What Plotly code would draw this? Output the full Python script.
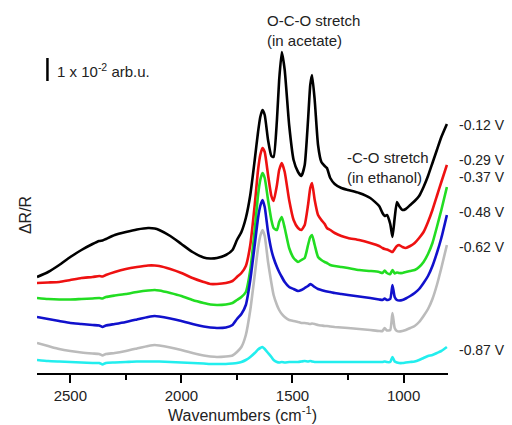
import plotly.graph_objects as go

wavenumbers = [2650, 2600, 2550, 2500, 2450, 2400, 2370, 2355, 2340, 2300,
               2250, 2200, 2150, 2120, 2100, 2050, 2000, 1950, 1900, 1870,
               1840, 1800, 1770, 1750, 1730, 1710, 1690, 1670, 1655, 1645,
               1635, 1625, 1610, 1595, 1585, 1570, 1560, 1548, 1535, 1515,
               1495, 1475, 1460, 1445, 1430, 1420, 1412, 1400, 1385, 1370,
               1355, 1345, 1330, 1310, 1280, 1250, 1200, 1150, 1110, 1095,
               1085, 1075, 1060, 1050, 1040, 1030, 1020, 1005, 990, 970,
               950, 930, 910, 890, 870, 850, 830, 805]

s_012 = [96, 101, 108, 116, 123, 129, 132, 132.5, 134, 138,
         141, 143.5, 145, 144.5, 143, 137, 129, 121, 115.5, 114.5,
         115, 118, 123, 133, 141, 155, 178, 213, 241, 256,
         263, 258, 233, 217, 216, 253, 293, 321, 303, 248,
         213, 201, 197, 208, 253, 288, 298, 273, 228, 211,
         207, 205, 195, 189, 185, 183, 180, 175, 167, 160,
         157, 158, 149, 136, 155, 171, 167, 163, 164, 168,
         172, 177, 186, 197, 210, 223, 236, 249]

s_029 = [90, 90.5, 91, 93, 95, 96, 97, 96.5, 98, 101,
         104, 106, 107.5, 107.5, 107, 104, 100, 95, 91, 89,
         89, 90, 92, 96, 100, 107, 128, 168, 203, 218,
         225, 221, 198, 177, 172, 188, 203, 210, 201, 173,
         153, 145, 143, 148, 168, 185, 190, 173, 158, 153,
         149, 145, 143, 140, 137, 135, 133, 130, 127, 125,
         124, 123.5, 122, 121, 124, 127, 128, 126, 125, 127,
         130, 135, 141, 151, 163, 177, 191, 208]

s_037 = [75, 74, 73.5, 73.5, 74, 74.5, 75, 74.5, 76, 77.5,
         79, 81, 82.5, 83, 82.5, 80, 77, 73, 70, 68.5,
         68, 68.5, 70, 73, 76, 81, 103, 143, 178, 193,
         200, 195, 173, 153, 145, 143, 151, 156, 145, 125,
         115, 111, 113, 115, 128, 136, 138, 128, 116, 113,
         111, 110, 108, 107, 106, 105, 103, 102, 101, 100,
         102.5, 100, 99, 103, 99.5, 100.5, 100, 100, 101, 102,
         103, 106, 111, 119, 130, 146, 163, 186]

s_048 = [56, 54, 52, 50, 49, 48, 47.5, 46, 47.5, 49,
         51, 53.5, 56, 57, 56.5, 54.5, 52, 49, 46.5, 45.5,
         45, 45.5, 48, 54, 59, 68, 93, 128, 155, 167,
         173, 166, 141, 123, 115, 106, 101, 96, 91, 86,
         84, 82, 83, 85, 87, 89, 88, 86, 84, 83,
         82, 81.5, 81, 80, 79, 78, 76.5, 75, 73.5, 73,
         74.5, 73, 74, 88, 76, 73, 72.5, 73, 74.5, 77,
         80, 84, 90, 97, 107, 120, 135, 158]

s_062 = [30, 27, 24, 22, 20.5, 19.5, 19, 17.5, 19, 20,
         22, 24.5, 27, 28, 27.5, 25.5, 23, 20, 17.5, 16.5,
         16, 16.5, 17.5, 21, 26, 38, 63, 98, 125, 137,
         143, 137, 111, 90, 78, 68, 63, 59, 56, 53,
         52, 51, 50, 50, 49.5, 49, 49.5, 49, 48, 47.5,
         47, 47, 46.5, 46, 45.5, 45, 44, 43, 42, 42,
         45, 42.5, 43, 60, 45, 42, 41.5, 42, 43, 45,
         47, 51, 57, 64, 74, 88, 105, 128]

s_087 = [13, 12, 11.5, 11, 10.5, 10, 10, 8.5, 10, 10.5,
         11, 11.5, 11.5, 11.5, 11.5, 11, 10.5, 10, 9.5, 9,
         9, 9, 9.5, 10, 11, 13, 16, 20, 23.5, 25,
         26, 24, 20, 16, 13, 11, 10.5, 11, 10.5, 11,
         11, 11, 11.5, 12, 11.5, 12, 11.5, 11, 11, 11,
         11, 11, 11, 11, 11, 11, 11, 11, 11, 11,
         11.5, 11, 11, 16, 11.5, 10.5, 10, 10, 10.5, 11,
         11.5, 13, 15, 17, 18, 20, 22, 26]

potentials = ["-0.12 V", "-0.29 V", "-0.37 V", "-0.48 V", "-0.62 V", "-0.87 V"]
series = [s_012, s_029, s_037, s_048, s_062, s_087]
colors = ["#000000", "#ee1111", "#22dd22", "#1111cc", "#bbbbbb", "#22eeee"]
label_y = [248, 213, 196, 161, 126, 23]

FONT = "Liberation Sans, Arial, sans-serif"

fig = go.Figure()
for name, ys, c in zip(potentials, series, colors):
    fig.add_trace(go.Scatter(x=wavenumbers, y=ys, mode="lines", name=name,
                             line=dict(color=c, width=2.6, shape="spline", smoothing=0.5),
                             showlegend=False))

for name, ly in zip(potentials, label_y):
    fig.add_annotation(x=1.022, xref="paper", y=ly, yref="y", text=name,
                       showarrow=False, xanchor="left", yanchor="middle",
                       font=dict(size=14, color="#222222", family=FONT))

fig.add_annotation(x=1624, y=343, text="O-C-O stretch<br>(in acetate)", showarrow=False,
                   xanchor="left", yanchor="middle", align="left",
                   font=dict(size=15, color="#222222", family=FONT))
fig.add_annotation(x=1265, y=205.5, text="-C-O stretch<br>(in ethanol)", showarrow=False,
                   xanchor="left", yanchor="middle", align="left",
                   font=dict(size=15, color="#222222", family=FONT))
fig.add_annotation(x=2567, y=303, text="1 x 10<sup>-2</sup> arb.u.", showarrow=False,
                   xanchor="left", yanchor="middle",
                   font=dict(size=15, color="#222222", family=FONT))
fig.add_shape(type="line", x0=2603, x1=2603, y0=292, y1=315, xref="x", yref="y",
              line=dict(color="#000000", width=2.5))
fig.add_annotation(x=-0.029, xref="paper", y=158, yref="y", text="ΔR/R", showarrow=False,
                   textangle=-90, xanchor="center", yanchor="middle",
                   font=dict(size=16, color="#222222", family=FONT))

fig.update_xaxes(range=[2650, 800], showline=True, linecolor="#000000", linewidth=2,
                 ticks="outside", ticklen=8, tickwidth=2, tickcolor="#000000",
                 tickvals=[2500, 2000, 1500, 1000],
                 minor=dict(tickvals=[2250, 1750, 1250], ticks="outside", ticklen=5,
                            tickwidth=2, tickcolor="#000000"),
                 showgrid=False, zeroline=False,
                 tickfont=dict(size=15, color="#222222", family=FONT),
                 title=dict(text="Wavenumbers (cm<sup>-1</sup>)", standoff=4,
                            font=dict(size=16, color="#222222", family=FONT)))
fig.update_yaxes(range=[0, 373], visible=False)

fig.update_layout(width=512, height=425, margin=dict(l=37, r=64, t=0, b=52),
                  plot_bgcolor="white", paper_bgcolor="white")

fig.write_html("out.html", config={"displayModeBar": False},
               post_script="document.body.style.margin='0';document.body.style.overflow='hidden';")
